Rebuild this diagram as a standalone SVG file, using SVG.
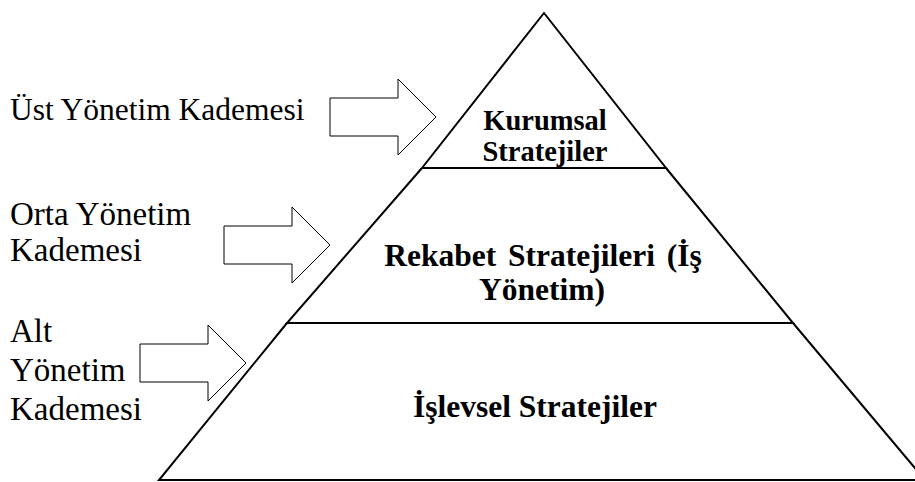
<svg xmlns="http://www.w3.org/2000/svg" width="915" height="482" viewBox="0 0 915 482">
  <style>
    .edge { fill: none; stroke: #000; stroke-width: 2; stroke-linejoin: miter; }
    .arrow { fill: #fff; stroke: #000; stroke-width: 1; }
    .label { font-family: "Liberation Serif", serif; font-size: 31.5px; fill: #000; }
    .label-lg { font-size: 33px; }
    .tier { font-family: "Liberation Serif", serif; font-size: 28.5px; font-weight: bold; fill: #000; text-anchor: middle; }
    .tier-lg { font-size: 31.5px; }
  </style>
  <rect width="915" height="482" fill="#fff"/>

  <!-- Pyramid tiers -->
  <g id="tier-corporate">
    <path class="edge" d="M422,168 L544,13 L666,168 Z"/>
    <text class="tier" x="545" y="130">Kurumsal</text>
    <text class="tier" x="545" y="161">Stratejiler</text>
  </g>
  <g id="tier-business">
    <path class="edge" d="M422,168 L287,323 L793,323 L666,168"/>
    <text class="tier tier-lg" x="543" y="266" word-spacing="4">Rekabet Stratejileri (İş</text>
    <text class="tier tier-lg" x="542" y="300">Yönetim)</text>
  </g>
  <g id="tier-functional">
    <path class="edge" d="M287,323 L159,480 L925,480 L793,323"/>
    <text class="tier tier-lg" x="535" y="417">İşlevsel Stratejiler</text>
  </g>

  <!-- Management level labels -->
  <g id="level-top">
    <text class="label" x="10" y="120">Üst Yönetim Kademesi</text>
  </g>
  <g id="level-middle">
    <text class="label label-lg" x="10" y="225">Orta Yönetim</text>
    <text class="label label-lg" x="10" y="261">Kademesi</text>
  </g>
  <g id="level-lower">
    <text class="label label-lg" x="10" y="342">Alt</text>
    <text class="label label-lg" x="10" y="381">Yönetim</text>
    <text class="label label-lg" x="10" y="420">Kademesi</text>
  </g>

  <!-- Block arrows pointing at the tiers -->
  <g id="connectors">
    <path class="arrow" d="M330,98 H398 V79 L436,117 L398,155 V136 H330 Z"/>
    <path class="arrow" d="M224,226 H292 V207 L330,245 L292,283 V264 H224 Z"/>
    <path class="arrow" d="M140,344 H208 V325 L246,363 L208,401 V382 H140 Z"/>
  </g>
</svg>
